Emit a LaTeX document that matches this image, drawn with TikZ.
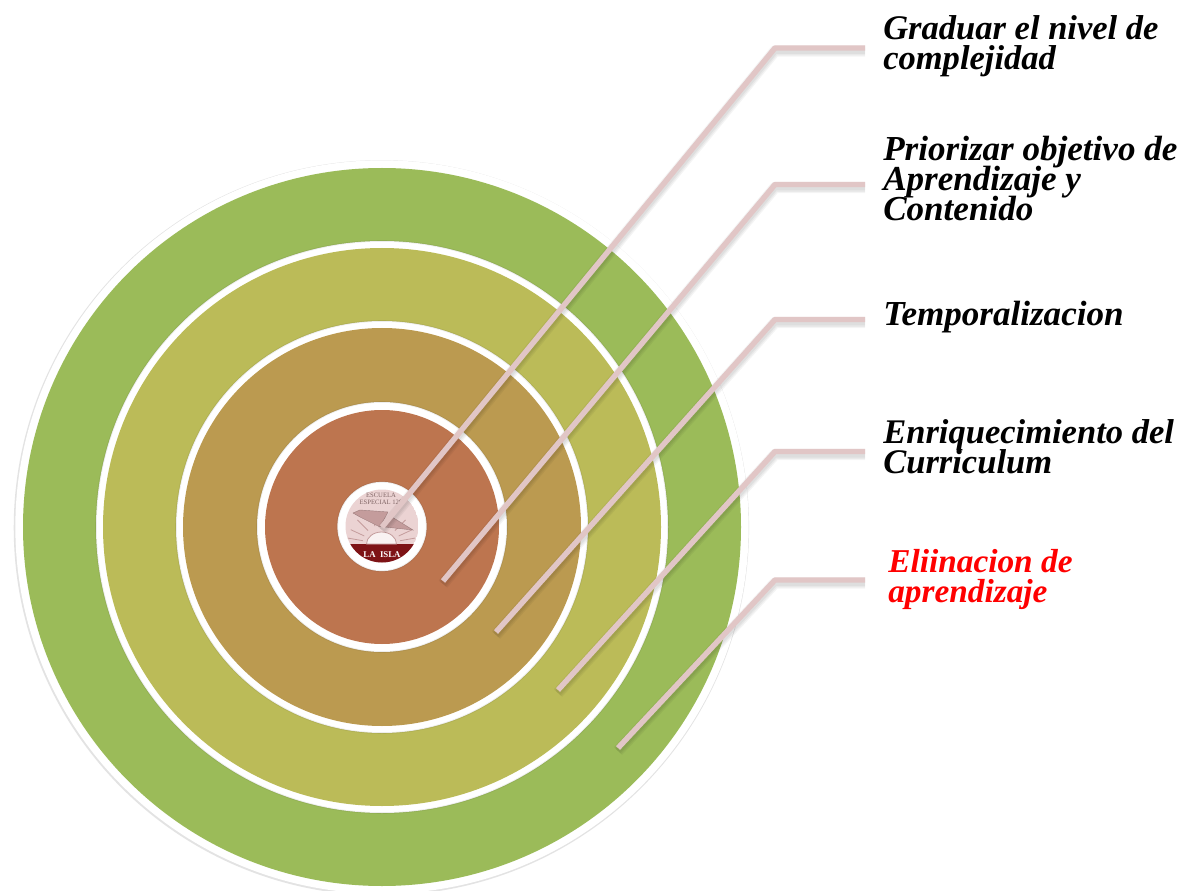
\documentclass[tikz,border=0pt]{standalone}
\usepackage{fontspec}
\usetikzlibrary{calc}
\setmainfont{Liberation Serif}
\lineskiplimit=-30pt
\begin{document}
\begin{tikzpicture}[x=0.75pt,y=-0.75pt,
  disc/.style={circle,fill=#1,inner sep=0pt},
  gap/.style={circle,fill=white,inner sep=0pt,draw=black,draw opacity=0.07,line width=1.2pt},
  leader/.style={draw=leaderc,line width=4.1pt,line join=round},
  leadershadow/.style={draw=black,draw opacity=0.045,line join=round,line width=#1},
  lab/.style={anchor=base west,align=left,inner sep=0pt,font=\fontsize{25.9}{22.5}\selectfont\bfseries\itshape,text=black},
  labwide/.style={lab,font=\fontsize{26.3}{22.5}\selectfont\bfseries\itshape},
  labred/.style={lab,font=\fontsize{25}{22.5}\selectfont\bfseries\itshape,text=red},
]
\definecolor{cgreen}{HTML}{9BBB59}
\definecolor{colive}{HTML}{BBBB58}
\definecolor{cochre}{HTML}{BB9A50}
\definecolor{cbrown}{HTML}{BD754F}
\definecolor{leaderc}{HTML}{E1C6C6}
\definecolor{logored}{HTML}{7E1316}
\definecolor{logopink}{HTML}{EBD3D3}
\definecolor{logoink}{HTML}{C49C9C}
\useasboundingbox (0,0) rectangle (1182,891);
\fill[white] (0,0) rectangle (1182,891);
\coordinate (c) at (382,527);
% rings
\node[disc=black!11,minimum size=551.5pt] (r00) at ($(c)+(-0.6,0.8)$) {};
\node[disc=white,minimum size=550pt] (r0) at (c) {};
\node[disc=cgreen,minimum size=538.5pt] (r1) at (c) {};
\node[gap,minimum size=429pt] (w2) at (c) {};
\node[disc=colive,minimum size=418.5pt] (r2) at (c) {};
\node[gap,minimum size=309pt] (w3) at (c) {};
\node[disc=cochre,minimum size=298.5pt] (r3) at (c) {};
\node[gap,minimum size=187.5pt] (w4) at (c) {};
\node[disc=cbrown,minimum size=175.5pt] (r4) at (c) {};
\node[gap,minimum size=67pt] (w5) at (382,526.5) {};
% logo
\begin{scope}
  \clip (382,526) circle (36.5);
  \fill[logopink] (382,526) circle (36.5);
  \fill[logored] (340,544) rectangle (424,566);
  \foreach \a in {190,205,225,250,290,315,335,350}
    \draw[logoink,line width=0.6pt] ($(381.5,544)+(\a:19)$) -- ($(381.5,544)+(\a:34)$);
  \fill[white!70!logopink,draw=logoink,line width=0.6pt] (366.5,544) arc (180:360:15 and 12) -- cycle;
  \fill[logoink,draw=logoink!80!black,line width=0.3pt] (353,513) -- (360,510) -- (388,512) -- (380,527) -- (360,517) -- cycle;
  \fill[logoink,draw=logoink!80!black,line width=0.3pt] (392,517) -- (413,530) -- (385,527) -- cycle;
\end{scope}
\node[inner sep=0pt,text=logoink!65!black,font=\fontsize{5}{5.2}\selectfont,align=center] (logotxt) at (381,498.5) {ESCUELA\\ESPECIAL 129};
\node[inner sep=0pt,text=white,font=\fontsize{6.6}{6.6}\selectfont\bfseries] (logoname) at (382,555) {LA\ \ ISLA};
% label nodes (anchor is the baseline of the last line)
\node[lab] (t1) at (883,70) {Graduar el nivel de\\complejidad};
\node[labwide] (t2) at (883,221) {Priorizar objetivo de\\Aprendizaje y\\Contenido};
\node[labwide] (t3) at (883,326) {Temporalizacion};
\node[lab] (t4) at (883,473) {Enriquecimiento del\\Curriculum};
\node[labred] (t5) at (888,602) {Eliinacion de\\aprendizaje};
% connector ends
\coordinate (a1) at (382,527); \coordinate (b1) at (775,48); \coordinate (e1) at (865,48);
\coordinate (a2) at (443,581); \coordinate (b2) at (775,184.5); \coordinate (e2) at (865,184.5);
\coordinate (a3) at (496,632); \coordinate (b3) at (775,319.5); \coordinate (e3) at (865,319.5);
\coordinate (a4) at (558,690); \coordinate (b4) at (775,451.5); \coordinate (e4) at (865,451.5);
\coordinate (a5) at (618,748); \coordinate (b5) at (775,580); \coordinate (e5) at (865,580);
\foreach \i in {1,...,5}{
  \foreach \w in {8.5pt,6.5pt,4.5pt}
    \draw[leadershadow=\w] ($(a\i)+(0,3)$) -- ($(b\i)+(0,3)$) -- ($(e\i)+(0,3)$);
  \draw[leader] (a\i) -- (b\i) -- (e\i);
}
\end{tikzpicture}
\end{document}
